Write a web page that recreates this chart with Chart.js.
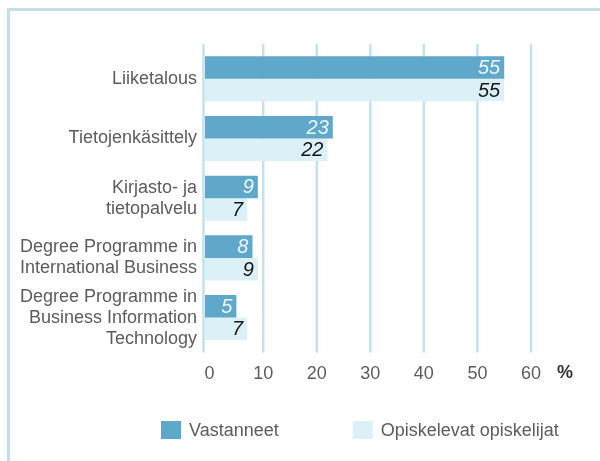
<!DOCTYPE html>
<html><head><meta charset="utf-8">
<script src="https://cdn.jsdelivr.net/npm/chart.js@4/dist/chart.umd.min.js"></script>
<style>
html,body{margin:0;padding:0;background:#fff;}
#wrap{position:relative;width:600px;height:461px;overflow:hidden;}
#frame{position:absolute;left:7px;top:8px;width:700px;height:600px;border-left:3px solid #c4dfe8;border-top:3px solid #c4dfe8;}
canvas{position:absolute;left:0;top:0;}
</style></head><body>
<div id="wrap"><div id="frame"></div><canvas id="c" width="600" height="461" style="width:600px;height:461px"></canvas></div>
<script>
// ---- data ----
const categories = [
  'Liiketalous',
  'Tietojenkäsittely',
  ['Kirjasto- ja', 'tietopalvelu'],
  ['Degree Programme in', 'International Business'],
  ['Degree Programme in', 'Business Information', 'Technology']
];
const seriesNames = ['Vastanneet', 'Opiskelevat opiskelijat'];
const vastanneet = [55, 23, 9, 8, 5];
const opiskelevat = [55, 22, 7, 9, 7];
const xTicks = [0, 10, 20, 30, 40, 50, 60];
const unitLabel = '%';

// style: the axis line sits a little left of the value 0, as in the original
const AXIS_START = -0.86;

const FAMILY = '"Liberation Sans", Arial, sans-serif';
const TEXT = '#5c5c5c';
const BLUE = '#5fa8c9';
const LIGHT = '#dcf0f7';
const GRID = '#c5e1ea';

const gridPlugin = {
  id: 'gridExt',
  beforeDatasetsDraw(chart) {
    const {ctx, chartArea} = chart; const xs = chart.scales.x;
    ctx.save();
    ctx.strokeStyle = GRID; ctx.lineWidth = 2.5;
    const top = chartArea.top - 5, bottom = chartArea.bottom + 5;
    // axis line
    ctx.beginPath(); ctx.moveTo(chartArea.left - 1.5, top); ctx.lineTo(chartArea.left - 1.5, bottom); ctx.stroke();
    xs.ticks.forEach(t => {
      if (t.value === 0) return;
      const px = xs.getPixelForValue(t.value);
      ctx.beginPath(); ctx.moveTo(px, top); ctx.lineTo(px, bottom); ctx.stroke();
    });
    ctx.restore();
  }
};

const labelPlugin = {
  id: 'valueLabels',
  afterDatasetsDraw(chart) {
    const {ctx} = chart;
    ctx.save();
    ctx.font = 'italic 20px ' + FAMILY;
    ctx.textAlign = 'right'; ctx.textBaseline = 'middle';
    chart.data.datasets.forEach((ds, i) => {
      const meta = chart.getDatasetMeta(i);
      ctx.fillStyle = i === 0 ? '#eef8fc' : '#151515';
      meta.data.forEach((bar, j) => {
        ctx.fillText(String(ds.data[j]), bar.x - 4, bar.y + 1);
      });
    });
    const xs = chart.scales.x;
    ctx.font = 'bold 18px ' + FAMILY;
    ctx.fillStyle = '#333';
    ctx.textAlign = 'center';
    ctx.fillText(unitLabel, xs.getPixelForValue(xTicks[xTicks.length - 1]) + 34, chart.chartArea.bottom + 26);
    ctx.restore();
  }
};

const legendPlugin = {
  id: 'customLegend',
  afterDraw(chart) {
    const {ctx} = chart;
    ctx.save();
    ctx.font = '18px ' + FAMILY;
    ctx.textBaseline = 'middle'; ctx.textAlign = 'left';
    let x = 161; const y = 421;
    chart.data.datasets.forEach(ds => {
      ctx.fillStyle = ds.backgroundColor;
      ctx.fillRect(x, y, 20, 18);
      ctx.fillStyle = TEXT;
      ctx.fillText(ds.label, x + 28, y + 10);
      x += 28 + ctx.measureText(ds.label).width + 74;
    });
    ctx.restore();
  }
};

new Chart(document.getElementById('c'), {
  type: 'bar',
  data: {
    labels: categories,
    datasets: [
      { label: seriesNames[0], data: vastanneet, backgroundColor: BLUE },
      { label: seriesNames[1], data: opiskelevat, backgroundColor: LIGHT }
    ]
  },
  options: {
    indexAxis: 'y',
    responsive: false,
    animation: false,
    layout: { padding: { top: 49, right: 69, bottom: 60, left: 0 } },
    datasets: { bar: { categoryPercentage: 0.755, barPercentage: 1, base: AXIS_START } },
    plugins: { legend: { display: false }, tooltip: { enabled: false } },
    scales: {
      x: {
        min: AXIS_START, max: 60,
        afterBuildTicks: s => { s.ticks = xTicks.map(v => ({ value: v })); },
        grid: { display: false, drawTicks: false },
        border: { display: false },
        ticks: { color: TEXT, font: { family: FAMILY, size: 18 }, padding: 16, maxRotation: 0, autoSkip: false }
      },
      y: {
        grid: { display: false, drawTicks: false },
        border: { display: false },
        ticks: { color: TEXT, font: { family: FAMILY, size: 18, lineHeight: '21px' }, padding: 8, autoSkip: false },
        afterFit: s => { s.width = 205; }
      }
    }
  },
  plugins: [gridPlugin, labelPlugin, legendPlugin]
});
</script>
</body></html>
